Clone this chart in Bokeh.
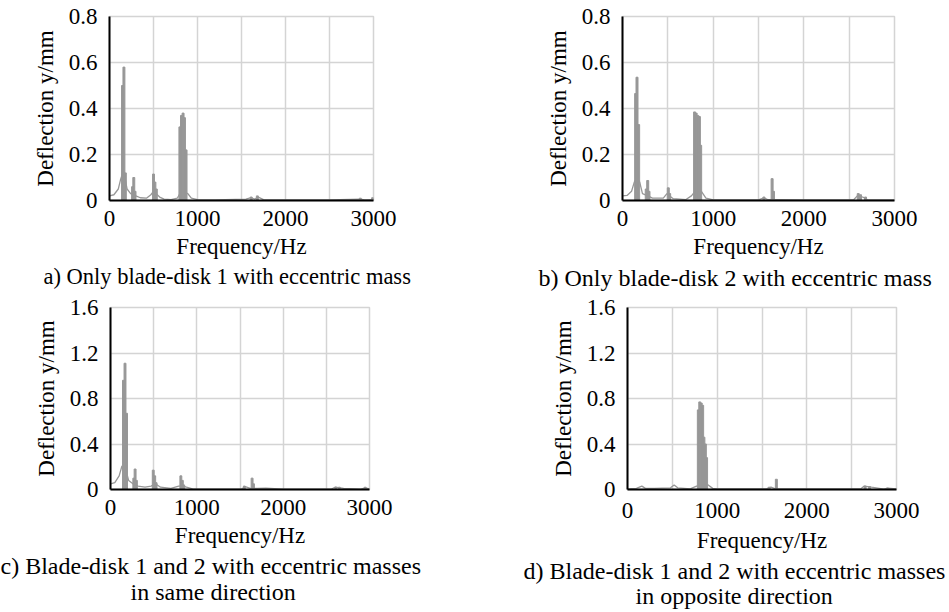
from bokeh.plotting import figure
from bokeh.models import Range1d, FixedTicker, Title
from bokeh.layouts import row, column
from bokeh.embed import file_html
from bokeh.resources import INLINE

FONT = "Liberation Serif"
GRAY = "#979797"
GRID = "#d4d4d4"

# ---------------- data ----------------
x_ticks = [0, 1000, 2000, 3000]
x_grid = [0, 500, 1000, 1500, 2000, 2500, 3000]
y_ticks_ab = [0, 0.2, 0.4, 0.6, 0.8]
y_ticks_cd = [0, 0.4, 0.8, 1.2, 1.6]

# a) only blade-disk 1 with eccentric mass
a_line_f = [0, 50, 100, 125, 150, 175, 200, 240, 300, 350, 420, 470, 500, 530, 570, 620, 700,
            770, 800, 850, 890, 930, 1000, 1200, 1550, 1610, 1650, 1690, 1750, 2000, 2500, 2850, 2900, 3000]
a_line_d = [0.02, 0.025, 0.05, 0.09, 0.12, 0.10, 0.05, 0.03, 0.02, 0.012, 0.01, 0.025, 0.04, 0.03, 0.015, 0.006, 0.004,
            0.01, 0.03, 0.035, 0.03, 0.01, 0.004, 0.003, 0.006, 0.012, 0.006, 0.015, 0.004, 0.003, 0.003, 0.006, 0.003, 0.004]
a_spike_f = [148, 164, 180, 262, 276, 290, 500, 516, 532, 800, 818, 836, 852, 870, 1610, 1680, 2850, 2990]
a_spike_d = [0.50, 0.58, 0.12, 0.06, 0.10, 0.04, 0.115, 0.08, 0.05, 0.32, 0.37, 0.38, 0.36, 0.22, 0.015, 0.02, 0.01, 0.012]

# b) only blade-disk 2 with eccentric mass
b_line_f = [0, 50, 100, 130, 160, 190, 220, 280, 330, 450, 490, 520, 560, 700, 760, 800, 870, 920, 1000,
            1500, 1560, 1600, 1700, 2000, 2550, 2590, 2650, 2700, 3000]
b_line_d = [0.02, 0.022, 0.04, 0.08, 0.10, 0.08, 0.03, 0.02, 0.01, 0.01, 0.03, 0.02, 0.008, 0.004, 0.02, 0.04, 0.04, 0.01, 0.003,
            0.003, 0.012, 0.004, 0.004, 0.003, 0.003, 0.02, 0.015, 0.004, 0.003]
b_spike_f = [145, 160, 178, 262, 278, 292, 505, 520, 795, 812, 830, 848, 862, 1560, 1650, 1665, 2600, 2625, 2680]
b_spike_d = [0.465, 0.536, 0.33, 0.05, 0.087, 0.04, 0.055, 0.03, 0.385, 0.38, 0.37, 0.365, 0.24, 0.015, 0.095, 0.04, 0.03, 0.025, 0.015]

# c) both with eccentric masses in same direction
c_line_f = [0, 50, 100, 130, 150, 175, 210, 260, 320, 400, 470, 520, 580, 700, 790, 840, 880, 950, 1200,
            1520, 1560, 1620, 1700, 1800, 2000, 2560, 2600, 2700, 2900, 2950, 3000]
c_line_d = [0.05, 0.06, 0.12, 0.2, 0.22, 0.18, 0.08, 0.05, 0.03, 0.02, 0.03, 0.05, 0.02, 0.01, 0.03, 0.03, 0.02, 0.005, 0.003,
            0.005, 0.025, 0.01, 0.01, 0.012, 0.004, 0.004, 0.02, 0.01, 0.004, 0.015, 0.005]
c_spike_f = [150, 168, 186, 270, 285, 300, 495, 512, 528, 815, 832, 848, 1550, 1640, 1656, 2610, 2650, 2950]
c_spike_d = [0.96, 1.11, 0.67, 0.10, 0.18, 0.08, 0.17, 0.12, 0.06, 0.12, 0.08, 0.04, 0.03, 0.10, 0.05, 0.02, 0.02, 0.02]

# d) both with eccentric masses in opposite direction
d_line_f = [0, 100, 160, 200, 300, 480, 520, 560, 700, 770, 900, 950, 1000, 1550, 1600, 1650, 1700, 2000,
            2600, 2640, 2720, 2860, 2900, 3000]
d_line_d = [0.005, 0.01, 0.03, 0.01, 0.01, 0.015, 0.04, 0.015, 0.005, 0.03, 0.04, 0.01, 0.005, 0.005, 0.02, 0.005, 0.005, 0.005,
            0.005, 0.03, 0.02, 0.004, 0.012, 0.005]
d_spike_f = [790, 806, 822, 838, 852, 868, 882, 1580, 1660, 2650, 2700, 2900]
d_spike_d = [0.70, 0.77, 0.76, 0.74, 0.46, 0.40, 0.28, 0.02, 0.09, 0.03, 0.025, 0.012]


def tick_label(v):
    return "0" if v == 0 else f"{v:g}"


def make_panel(line_f, line_d, spike_f, spike_d, ymax, yticks, frame, borders, captions, cap_size,
               xtick_standoff=10, xlabel_standoff=5):
    fw, fh = frame
    bl, br, bt, bb = borders
    p = figure(frame_width=fw, frame_height=fh,
               min_border_left=bl, min_border_right=br, min_border_top=bt, min_border_bottom=bb,
               x_range=Range1d(0, 3000), y_range=Range1d(0, ymax),
               output_backend="svg", toolbar_location=None)
    p.background_fill_color = "white"
    p.border_fill_color = "white"
    p.outline_line_color = GRID
    p.outline_line_width = 1.5

    p.line(line_f, line_d, line_color=GRAY, line_width=1.3)
    p.vbar(x=spike_f, top=spike_d, bottom=0, width=22, fill_color=GRAY, line_color=GRAY, line_width=1)

    p.xaxis.ticker = FixedTicker(ticks=x_ticks)
    p.xgrid.ticker = FixedTicker(ticks=x_grid)
    p.yaxis.ticker = FixedTicker(ticks=yticks)
    p.yaxis.major_label_overrides = {v: tick_label(v) for v in yticks}
    for g in (p.xgrid, p.ygrid):
        g.grid_line_color = GRID
        g.grid_line_width = 1.5
    for ax in (p.xaxis, p.yaxis):
        ax.axis_line_color = "black"
        ax.axis_line_width = 2
        ax.major_tick_line_color = None
        ax.minor_tick_line_color = None
        ax.major_tick_out = 0
        ax.major_tick_in = 0
        ax.major_label_text_font = FONT
        ax.major_label_text_font_size = "23px"
        ax.major_label_text_color = "black"
        ax.axis_label_text_font = FONT
        ax.axis_label_text_font_size = "23px"
        ax.axis_label_text_font_style = "normal"
        ax.axis_label_text_color = "black"
    p.yaxis.major_label_standoff = 12
    p.xaxis.major_label_standoff = xtick_standoff
    p.xaxis.axis_label = "Frequency/Hz"
    p.xaxis.axis_label_standoff = xlabel_standoff
    p.yaxis.axis_label = "Deflection y/mm"
    p.yaxis.axis_label_standoff = 8

    for txt, off, standoff in captions:
        p.add_layout(Title(text=txt, align="left", offset=off, standoff=standoff,
                           text_font=FONT, text_font_size=cap_size, text_font_style="normal",
                           text_color="black"), "below")
    return p


pa = make_panel(a_line_f, a_line_d, a_spike_f, a_spike_d, 0.8, y_ticks_ab,
                (264, 184), (109, 101, 16, 96),
                [("a) Only blade-disk 1 with eccentric mass", -66, 0)], "22.5px")
pb = make_panel(b_line_f, b_line_d, b_spike_f, b_spike_d, 0.8, y_ticks_ab,
                (272, 184), (148, 55, 16, 96),
                [("b) Only blade-disk 2 with eccentric mass", -84, 3)], "24px")
pc = make_panel(c_line_f, c_line_d, c_spike_f, c_spike_d, 1.6, y_ticks_cd,
                (259, 182), (110, 105, 11, 123),
                [("c) Blade-disk 1 and 2 with eccentric masses", -110, 1),
                 ("in same direction", 20, -6)], "24px")
pd = make_panel(d_line_f, d_line_d, d_spike_f, d_spike_d, 1.6, y_ticks_cd,
                (269, 182), (153, 53, 11, 123),
                [("d) Blade-disk 1 and 2 with eccentric masses", -104, 0),
                 ("in opposite direction", 8, -5)], "24px",
                xtick_standoff=13, xlabel_standoff=7)

layout = column(row(pa, pb), row(pc, pd))
open("out.html", "w").write(file_html(layout, INLINE))
